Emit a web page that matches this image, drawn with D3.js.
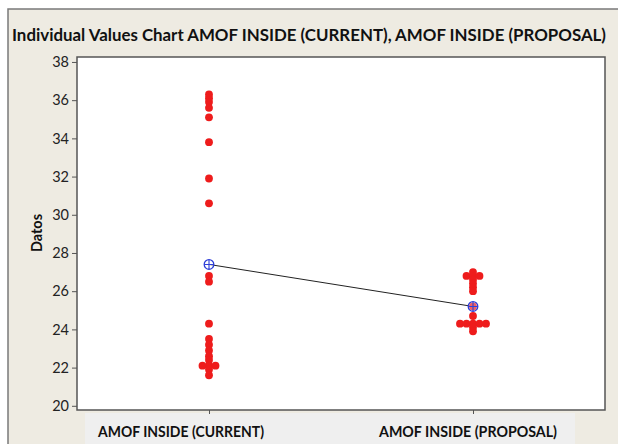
<!DOCTYPE html>
<html>
<head>
<meta charset="utf-8">
<script src="https://cdn.jsdelivr.net/npm/d3@7"></script>
<style>
  body { margin: 0; background: #ffffff; }
  text { font-family: Lato, "Open Sans", sans-serif; }
</style>
</head>
<body>
<div id="wrapper"></div>
<script>
// groups and values
const categories = ["AMOF INSIDE (CURRENT)", "AMOF INSIDE (PROPOSAL)"];
const currentValues = [36.3, 36.1, 35.9, 35.6, 35.1, 33.8, 31.9, 30.6, 26.8, 26.5,
    24.3, 23.5, 23.2, 22.9, 22.6, 22.4, 22.1, 22.1, 22.1, 21.9, 21.6];
const proposalValues = [27.0, 26.8, 26.8, 26.8, 26.6, 26.4, 26.2, 26.0, 25.2,
    24.7, 24.3, 24.3, 24.3, 24.3, 24.3, 24.1, 23.9];
const means = [27.4, 25.2];
const yTicks = [20, 22, 24, 26, 28, 30, 32, 34, 36, 38];
const title = "Individual Values Chart AMOF INSIDE (CURRENT), AMOF INSIDE (PROPOSAL)";
const yLabel = "Datos";

function buildPlot() {
    var dimension = {
        width: 618,
        height: 444,
        margin: { top: 57, left: 77, bottom: 34, right: 13 }
    };
    dimension.boundedWidth = dimension.width - dimension.margin.left - dimension.margin.right;
    dimension.boundedHeight = dimension.height - dimension.margin.top - dimension.margin.bottom;

    const svg = d3.select("#wrapper").append("svg")
        .attr("width", dimension.width)
        .attr("height", dimension.height);

    // beige frame
    svg.append("rect")
        .attr("x", 8).attr("y", 9)
        .attr("width", 620).attr("height", 450)
        .attr("fill", "#eeebe2")
        .attr("stroke", "#7a7a7a")
        .attr("stroke-width", 1.5);

    // lighter band behind the x labels
    svg.append("rect")
        .attr("x", 85).attr("y", 413)
        .attr("width", 490).attr("height", 35)
        .attr("fill", "#efefef");

    svg.append("text")
        .attr("x", 12).attr("y", 41)
        .attr("font-size", 17).attr("font-weight", "bold")
        .attr("fill", "#111")
        .attr("textLength", 594)
        .attr("lengthAdjust", "spacingAndGlyphs")
        .text(title);

    const bounded = svg.append("g")
        .attr("transform", `translate(${dimension.margin.left}, ${dimension.margin.top})`);

    bounded.append("rect")
        .attr("width", dimension.boundedWidth)
        .attr("height", dimension.boundedHeight)
        .attr("fill", "#ffffff")
        .attr("stroke", "#555")
        .attr("stroke-width", 1.5);

    const yScaler = d3.scaleLinear()
        .domain([19.78, 38.26])
        .range([dimension.boundedHeight, 0]);

    const xScaler = d3.scalePoint()
        .domain(categories)
        .range([0, dimension.boundedWidth])
        .padding(0.5);

    const Ax_y = d3.axisLeft(yScaler).tickValues(yTicks).tickSize(5).tickPadding(3);
    const gy = bounded.append("g").call(Ax_y);
    gy.select(".domain").remove();
    gy.selectAll("line").attr("stroke", "#555");
    gy.selectAll("text").attr("font-size", 14.5).attr("fill", "#222")
        .style("font-family", "Lato, sans-serif");

    const Ax_x = d3.axisBottom(xScaler).tickSize(4).tickFormat("");
    const gx = bounded.append("g")
        .attr("transform", `translate(0, ${dimension.boundedHeight})`)
        .call(Ax_x);
    gx.select(".domain").remove();
    gx.selectAll("line").attr("stroke", "#555");

    // labels sit a little left of their ticks, like in the original
    const labelShift = [-28, -5];
    svg.selectAll(".xlab")
        .data(categories)
        .join("text")
        .attr("class", "xlab")
        .attr("x", (d, i) => dimension.margin.left + xScaler(d) + labelShift[i])
        .attr("y", 437)
        .attr("text-anchor", "middle")
        .attr("font-size", 15).attr("font-weight", "bold")
        .attr("fill", "#111")
        .attr("textLength", (d, i) => i === 0 ? 166 : 178)
        .attr("lengthAdjust", "spacingAndGlyphs")
        .text(d => d);

    svg.append("text")
        .attr("transform", `translate(42, 233) rotate(-90)`)
        .attr("text-anchor", "middle")
        .attr("font-size", 14.5).attr("font-weight", "bold")
        .attr("fill", "#111")
        .text(yLabel);

    // points, identical values placed side by side
    const series = [currentValues, proposalValues];
    const points = [];
    series.forEach((vals, i) => {
        const groups = d3.group(vals, v => v);
        groups.forEach((arr, v) => {
            arr.forEach((_, k) => {
                points.push({ cat: categories[i], value: v, offset: (k - (arr.length - 1) / 2) * 6.5 });
            });
        });
    });

    // connect line between means
    const meanLine = d3.line()
        .x((d, i) => xScaler(categories[i]))
        .y(d => yScaler(d));
    bounded.append("path")
        .attr("d", meanLine(means))
        .attr("fill", "none")
        .attr("stroke", "#222")
        .attr("stroke-width", 1);

    bounded.selectAll(".dot")
        .data(points)
        .join("circle")
        .attr("class", "dot")
        .attr("cx", d => xScaler(d.cat) + d.offset)
        .attr("cy", d => yScaler(d.value))
        .attr("r", 3.9)
        .attr("fill", "#ee1c1c");

    const meanG = bounded.selectAll(".mean")
        .data(means)
        .join("g")
        .attr("class", "mean")
        .attr("transform", (d, i) => `translate(${xScaler(categories[i])}, ${yScaler(d)})`);
    meanG.append("circle")
        .attr("r", 4.8)
        .attr("fill", "rgba(255,255,255,0.3)")
        .attr("stroke", "#2f3fd8")
        .attr("stroke-width", 1.3);
    meanG.append("path")
        .attr("d", "M-4.8,0H4.8M0,-4.8V4.8")
        .attr("stroke", "#2f3fd8")
        .attr("stroke-width", 1.1);
}

buildPlot();
</script>
</body>
</html>
